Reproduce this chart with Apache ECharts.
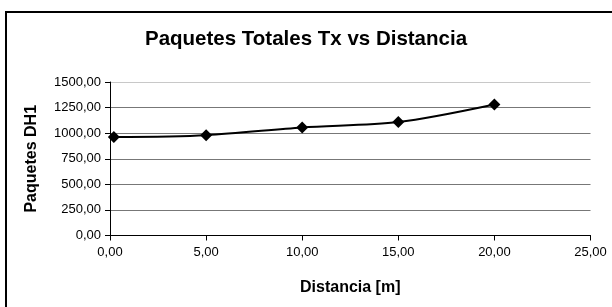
<!DOCTYPE html>
<html>
<head>
<meta charset="utf-8">
<script src="https://cdn.jsdelivr.net/npm/echarts@6/dist/echarts.min.js"></script>
<style>
html, body { margin: 0; padding: 0; background: #fff; }
#chart { width: 612px; height: 307px; }
</style>
</head>
<body>
<div id="chart"></div>
<script>
var distancia = [0.2, 5, 10, 15, 20];
var paquetes = [962, 980, 1056, 1108, 1280];
var yTicks = [0, 250, 500, 750, 1000, 1250, 1500];
var xTicks = [0, 5, 10, 15, 20, 25];

function coma(v) {
    return v.toFixed(2).replace('.', ',');
}

var puntos = distancia.map(function (d, i) { return [d, paquetes[i]]; });

var myChart = echarts.init(document.getElementById('chart'));
var option = {
    animation: false,
    backgroundColor: '#fff',
    textStyle: { fontFamily: 'Liberation Sans, Arial, sans-serif' },
    title: {
        text: 'Paquetes Totales Tx vs Distancia',
        left: 'center',
        top: 24,
        textStyle: { fontSize: 20.5, fontWeight: 'bold', color: '#000', fontFamily: 'Liberation Sans' }
    },
    graphic: [{
        type: 'rect',
        shape: { x: 6, y: 12, width: 640, height: 340 },
        style: { fill: 'none', stroke: '#000', lineWidth: 2 },
        silent: true
    }],
    grid: { left: 110, right: 21.5, top: 82, bottom: 71.5 },
    xAxis: {
        type: 'value',
        min: xTicks[0],
        max: xTicks[xTicks.length - 1],
        interval: 5,
        name: 'Distancia [m]',
        nameLocation: 'middle',
        nameGap: 44,
        nameTextStyle: { fontSize: 16, fontWeight: 'bold', color: '#000', fontFamily: 'Liberation Sans' },
        axisLine: { lineStyle: { color: '#000', width: 1 } },
        axisTick: { show: true, inside: false, length: 5, lineStyle: { color: '#000' } },
        axisLabel: { formatter: coma, fontSize: 13, color: '#000', margin: 10 },
        splitLine: { show: false }
    },
    yAxis: {
        type: 'value',
        min: yTicks[0],
        max: yTicks[yTicks.length - 1],
        interval: 250,
        name: 'Paquetes DH1',
        nameLocation: 'middle',
        nameGap: 70,
        nameRotate: 90,
        nameTextStyle: { fontSize: 16, fontWeight: 'bold', color: '#000', fontFamily: 'Liberation Sans' },
        axisLine: { show: true, lineStyle: { color: '#000', width: 1 } },
        axisTick: { show: true, inside: false, length: 5, lineStyle: { color: '#000' } },
        axisLabel: { formatter: coma, fontSize: 13, color: '#000', margin: 9 },
        splitLine: {
            show: true,
            lineStyle: { color: ['#777', '#777', '#777', '#777', '#777', '#777', '#c8c8c8'], width: 1 }
        }
    },
    series: [{
        type: 'line',
        data: puntos,
        smooth: 0.3,
        symbol: 'diamond',
        symbolSize: 12,
        itemStyle: { color: '#000' },
        lineStyle: { color: '#000', width: 2 }
    }]
};
myChart.setOption(option);
</script>
</body>
</html>
